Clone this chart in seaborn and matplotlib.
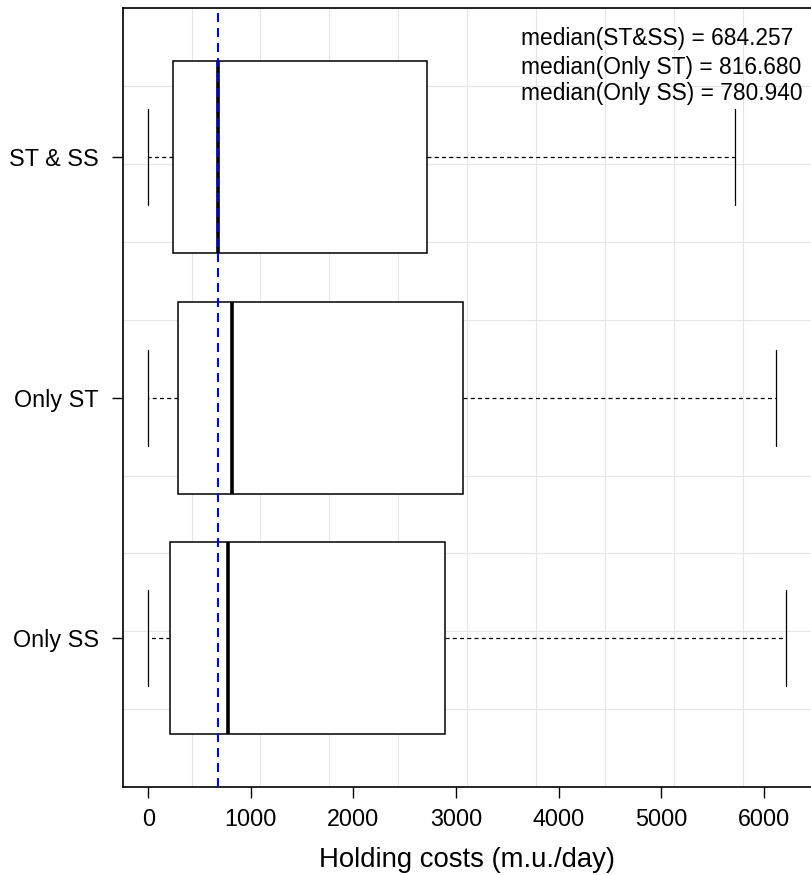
import numpy as np
import pandas as pd
import seaborn as sns
import matplotlib.pyplot as plt

# five-number summaries (holding costs, m.u./day)
groups = ['ST & SS', 'Only ST', 'Only SS']
short_names = ['ST&SS', 'Only ST', 'Only SS']
mins = [0, 0, 0]
q1s = [244, 286, 214]
medians = [684.257, 816.680, 780.940]
q3s = [2717, 3064, 2892]
maxs = [5716, 6122, 6216]
xticks = [0, 1000, 2000, 3000, 4000, 5000, 6000]

# one row per summary value -> seaborn gets exactly these quartiles back
rows = []
for g, a, b, c, d, e in zip(groups, mins, q1s, medians, q3s, maxs):
    for v in (a, b, c, d, e):
        rows.append({'group': g, 'cost': v})
df = pd.DataFrame(rows)

sns.set_style('white')
plt.rcParams['font.family'] = ['Liberation Sans', 'DejaVu Sans']
plt.rcParams['text.color'] = 'black'
plt.rcParams['axes.labelcolor'] = 'black'
plt.rcParams['xtick.color'] = 'black'
plt.rcParams['ytick.color'] = 'black'

fig = plt.figure(figsize=(8.12, 8.75), dpi=100)
ax = fig.add_axes([0.1511, 0.1006, 0.8483, 0.8899])

sns.boxplot(data=df, x='cost', y='group', order=groups, orient='h',
            color='white', linecolor='black', linewidth=1.1, width=0.8,
            whis=np.inf, saturation=1, ax=ax,
            medianprops=dict(linewidth=2.6, color='black'),
            whiskerprops=dict(linestyle=(0, (3.2, 2.6)), linewidth=0.9),
            capprops=dict(linewidth=0.9))

# R-style axis limits (4% padding)
lo = min(mins)
hi = max(maxs)
pad = 0.04 * (hi - lo)
ax.set_xlim(lo - pad, hi + pad)
ax.set_ylim(len(groups) - 0.5 + 0.12, -0.5 - 0.12)

# 10 x 10 light grid, like grid(10, 10)
x0, x1 = ax.get_xlim()
y0, y1 = ax.get_ylim()
ax.set_xticks(np.linspace(x0, x1, 11), minor=True)
ax.set_yticks(np.linspace(y0, y1, 11), minor=True)
ax.grid(which='minor', color='#e5e5e5', linewidth=0.8)
ax.grid(which='major', visible=False)
ax.set_axisbelow(True)

ax.axvline(medians[0], color='#0000ff', linestyle=(0, (4.3, 2.9)), linewidth=1.5, zorder=5)

ax.set_xticks(xticks)
ax.set_xticklabels([str(t) for t in xticks], fontsize=16.8)
ax.set_yticks(range(len(groups)))
ax.set_yticklabels(groups, fontsize=16.8)
ax.tick_params(which='major', bottom=True, left=True, direction='out',
               length=8, width=1.0, color='black')
ax.tick_params(axis='x', which='major', pad=7)
ax.tick_params(axis='y', which='major', pad=9)
ax.tick_params(which='minor', length=0)
ax.set_xlabel('Holding costs (m.u./day)', fontsize=19.8, labelpad=11.5)
ax.set_ylabel('')

for s in ax.spines.values():
    s.set_visible(True)
    s.set_color('black')
    s.set_linewidth(1.2)

ypos = [0.9615, 0.9246, 0.8908]
for n, m, yy in zip(short_names, medians, ypos):
    ax.text(0.5778, yy, f'median({n}) = {m:.3f}', transform=ax.transAxes,
            ha='left', va='center', fontsize=16.4)

fig.savefig('out.png', dpi=100)
